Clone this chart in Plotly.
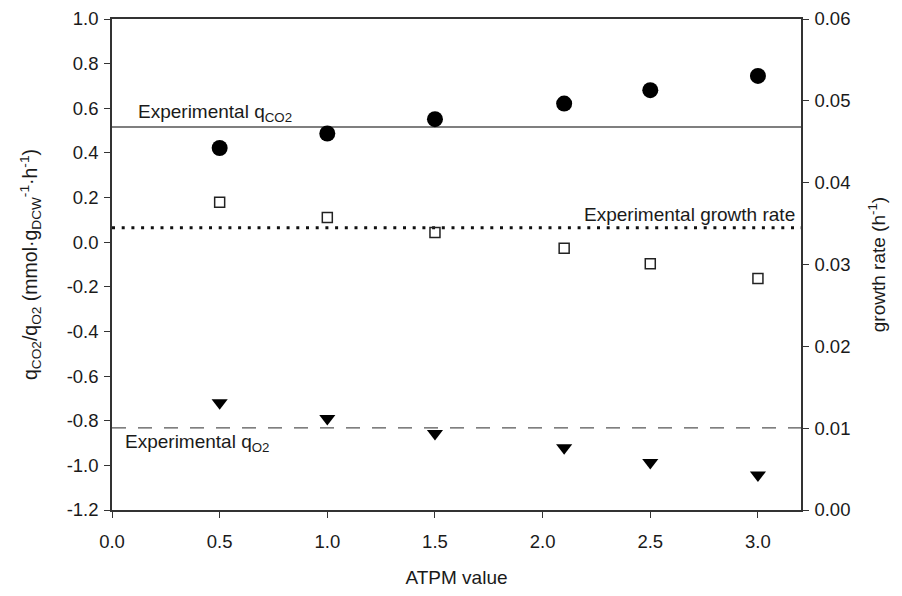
import plotly.graph_objects as go

atpm = [0.5, 1.0, 1.5, 2.1, 2.5, 3.0]
q_co2 = [0.422, 0.487, 0.551, 0.621, 0.681, 0.745]
q_o2 = [-0.72, -0.79, -0.857, -0.921, -0.987, -1.043]
growth = [0.0376, 0.03575, 0.0339, 0.0320, 0.0301, 0.0283]

exp_q_co2 = 0.516
exp_q_o2 = -0.832
exp_growth = 0.0345

x_ticks = [0, 0.5, 1.0, 1.5, 2.0, 2.5, 3.0]
x_labels = ["0.0", "0.5", "1.0", "1.5", "2.0", "2.5", "3.0"]
y_ticks = [-1.2, -1.0, -0.8, -0.6, -0.4, -0.2, 0, 0.2, 0.4, 0.6, 0.8, 1.0]
y_labels = ["-1.2", "-1.0", "-0.8", "-0.6", "-0.4", "-0.2", "0.0", "0.2", "0.4", "0.6", "0.8", "1.0"]
y2_ticks = [0, 0.01, 0.02, 0.03, 0.04, 0.05, 0.06]
y2_labels = ["0.00", "0.01", "0.02", "0.03", "0.04", "0.05", "0.06"]

x_range = [0, 3.2]
FONT = "Liberation Sans, Arial, sans-serif"
TXT = "#1a1a1a"

fig = go.Figure()

# reference lines
fig.add_trace(go.Scatter(x=x_range, y=[exp_q_co2, exp_q_co2], mode="lines",
                         line=dict(color="#555555", width=1.3), showlegend=False))
fig.add_trace(go.Scatter(x=x_range, y=[exp_q_o2, exp_q_o2], mode="lines",
                         line=dict(color="#555555", width=1.3, dash="14px,12px"), showlegend=False))
fig.add_trace(go.Scatter(x=x_range, y=[exp_growth, exp_growth], mode="lines", yaxis="y2",
                         line=dict(color="#111111", width=3, dash="3px,6.7px"), showlegend=False))

# data
fig.add_trace(go.Scatter(x=atpm, y=q_co2, mode="markers",
                         marker=dict(symbol="circle", size=16, color="black"), showlegend=False))
fig.add_trace(go.Scatter(x=atpm, y=q_o2, mode="markers",
                         marker=dict(symbol="triangle-down", size=14, color="black"), showlegend=False))
fig.add_trace(go.Scatter(x=atpm, y=growth, mode="markers", yaxis="y2",
                         marker=dict(symbol="square-open", size=10, color="#222222",
                                     line=dict(width=1.5, color="#222222")), showlegend=False))

fig.add_annotation(x=0.11, y=exp_q_co2, xref="x", yref="y", text="Experimental q<sub>CO2</sub>",
                   showarrow=False, xanchor="left", yanchor="bottom", yshift=0,
                   font=dict(family=FONT, size=19, color=TXT))
fig.add_annotation(x=3.18, y=exp_growth, xref="x", yref="y2", text="Experimental growth rate",
                   showarrow=False, xanchor="right", yanchor="bottom", yshift=1,
                   font=dict(family=FONT, size=19, color=TXT))
fig.add_annotation(x=0.05, y=exp_q_o2, xref="x", yref="y", text="Experimental q<sub>O2</sub>",
                   showarrow=False, xanchor="left", yanchor="top", yshift=-1,
                   font=dict(family=FONT, size=19, color=TXT))

axis_common = dict(showgrid=False, zeroline=False, showline=True, linecolor="#333333", linewidth=1.5,
                   ticks="outside", ticklen=6, tickwidth=1.3, tickcolor="#333333", automargin=False,
                   tickfont=dict(family=FONT, size=18.5, color=TXT))

fig.update_layout(
    width=886, height=580,
    margin=dict(l=104, r=93, t=11, b=78),
    paper_bgcolor="white", plot_bgcolor="white",
    xaxis=dict(range=x_range, tickvals=x_ticks, ticktext=x_labels, mirror=True, ticklabelstandoff=8,
               title=dict(text="ATPM value", font=dict(family=FONT, size=19, color=TXT), standoff=22),
               **axis_common),
    yaxis=dict(range=[-1.2, 1.0], tickvals=y_ticks, ticktext=y_labels, ticklabelstandoff=2,
               title=dict(text="q<sub>CO2</sub>/q<sub>O2</sub> (mmol·g<sub>DCW</sub><sup>-1</sup>·h<sup>-1</sup>)",
                          font=dict(family=FONT, size=19.5, color=TXT), standoff=24),
               **axis_common),
    yaxis2=dict(range=[0, 0.06], overlaying="y", side="right", tickvals=y2_ticks, ticktext=y2_labels,
                ticklabelstandoff=2,
                title=dict(text="growth rate (h<sup>-1</sup>)", font=dict(family=FONT, size=19, color=TXT),
                           standoff=22),
                **axis_common),
)

fig.write_html("out.html")
